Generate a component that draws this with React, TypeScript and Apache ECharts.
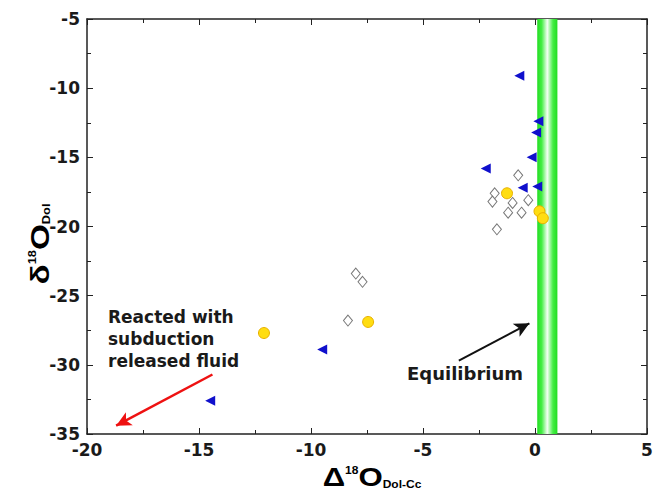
import React, { useEffect, useRef } from "react";
import * as echarts from "echarts";

const triangleData: number[][] = [
  [-0.7, -9.1],
  [0.15, -12.4],
  [0.05, -13.2],
  [-0.15, -15.0],
  [-2.2, -15.8],
  [-0.55, -17.2],
  [0.1, -17.1],
  [-9.5, -28.9],
  [-14.5, -32.6],
];

const circleData: number[][] = [
  [-1.25, -17.6],
  [0.2, -18.9],
  [0.35, -19.4],
  [-12.1, -27.7],
  [-7.45, -26.9],
];

const diamondData: number[][] = [
  [-0.75, -16.3],
  [-1.8, -17.6],
  [-1.9, -18.2],
  [-1.0, -18.3],
  [-0.3, -18.1],
  [-1.2, -19.0],
  [-0.6, -19.0],
  [-1.7, -20.2],
  [-8.0, -23.4],
  [-7.7, -24.0],
  [-8.35, -26.8],
];

const equilibriumBand: number[] = [0.1, 1.0];
const redArrow: number[][] = [[-14.4, -30.7], [-18.7, -34.4]];
const blackArrow: number[][] = [[-3.4, -29.7], [-0.25, -27.0]];

const xTicks = { min: -20, max: 5, interval: 5 };
const yTicks = { min: -35, max: -5, interval: 5 };

const FONT = "'Liberation Sans', Arial, sans-serif";
const WIDE_FONT = "'DejaVu Sans', sans-serif";

export default function App() {
  const ref = useRef<HTMLDivElement>(null);
  useEffect(() => {
    if (!ref.current) return;
    const chart = echarts.init(ref.current, undefined, { renderer: "svg" });
    const axisCommon = {
      axisLine: { show: true, onZero: false, lineStyle: { color: "#222", width: 1.5 } },
      axisTick: { show: true, inside: true, length: 6, lineStyle: { color: "#222", width: 1 } },
      minorTick: { show: true, splitNumber: 2, length: 4, lineStyle: { color: "#222", width: 1 } },
      splitLine: { show: false },
    };
    const labelStyle = { fontFamily: WIDE_FONT, fontWeight: "bold" as const, fontSize: 17, color: "#1a1a1a" };
    const nameRich = {
      m: { fontFamily: FONT, fontWeight: "bold", fontSize: 26, color: "#1a1a1a" },
      sup: { fontFamily: FONT, fontWeight: "bold", fontSize: 10, color: "#1a1a1a", padding: [0, 0, 14, 0] },
      sub: { fontFamily: FONT, fontWeight: "bold", fontSize: 10, color: "#1a1a1a", padding: [14, 0, 0, 0] },
    };
    chart.setOption({
      animation: false,
      backgroundColor: "#ffffff",
      grid: { left: 87, right: 7, top: 19, bottom: 62, containLabel: false, outerBoundsMode: "none" },
      xAxis: [
        {
          type: "value",
          ...xTicks,
          position: "bottom",
          ...axisCommon,
          axisLabel: { ...labelStyle, margin: 7 },
        },
        {
          type: "value",
          ...xTicks,
          position: "top",
          ...axisCommon,
          axisLabel: { show: false },
        },
      ],
      yAxis: [
        {
          type: "value",
          ...yTicks,
          position: "left",
          ...axisCommon,
          axisLabel: { ...labelStyle, margin: 7 },
        },
        {
          type: "value",
          ...yTicks,
          position: "right",
          ...axisCommon,
          axisLabel: { show: false },
        },
      ],
      series: [
        {
          type: "scatter",
          data: [],
          markArea: {
            silent: true,
            itemStyle: {
              opacity: 1,
              color: new echarts.graphic.LinearGradient(0, 0, 1, 0, [
                { offset: 0, color: "#22dd22" },
                { offset: 0.22, color: "#44ee44" },
                { offset: 0.5, color: "#f4fff4" },
                { offset: 0.78, color: "#44ee44" },
                { offset: 1, color: "#22dd22" },
              ]),
            },
            data: [[{ xAxis: equilibriumBand[0], yAxis: yTicks.min }, { xAxis: equilibriumBand[1], yAxis: yTicks.max }]],
          },
          markLine: {
            silent: true,
            symbol: ["none", "arrow"],
            symbolSize: [11, 15],
            label: { show: false },
            data: [
              [
                { coord: redArrow[0], lineStyle: { color: "#ee1111", width: 2.5, type: "solid" } },
                { coord: redArrow[1] },
              ],
              [
                { coord: blackArrow[0], lineStyle: { color: "#111111", width: 2, type: "solid" } },
                { coord: blackArrow[1] },
              ],
            ],
          },
        },
        {
          type: "scatter",
          data: diamondData,
          symbol: "diamond",
          symbolSize: [9, 11],
          itemStyle: { color: "#ffffff", borderColor: "#777777", borderWidth: 1, opacity: 1 },
          z: 3,
        },
        {
          type: "scatter",
          data: circleData,
          symbol: "circle",
          symbolSize: 11,
          itemStyle: { color: "#ffdd11", borderColor: "#e8b000", borderWidth: 1, opacity: 1 },
          z: 4,
        },
        {
          type: "scatter",
          data: triangleData,
          symbol: "triangle",
          symbolRotate: 90,
          symbolSize: [10, 10],
          itemStyle: { color: "#1010cc", opacity: 1 },
          z: 5,
        },
      ],
      graphic: [
        {
          type: "text",
          x: 40,
          y: 244,
          rotation: Math.PI / 2,
          scaleX: 1.28,
          style: {
            text: "{m|δ}{sup|18}{m|O}{sub|Dol}",
            rich: nameRich,
            align: "center",
            verticalAlign: "middle",
          },
        },
        {
          type: "text",
          x: 372,
          y: 477,
          scaleX: 1.2,
          style: {
            text: "{m|Δ}{sup|18}{m|O}{sub|Dol-Cc}",
            rich: nameRich,
            align: "center",
            verticalAlign: "middle",
          },
        },
        {
          type: "text",
          left: 108,
          top: 306,
          style: {
            text: "Reacted with\nsubduction\nreleased fluid",
            font: `bold 17px ${WIDE_FONT}`,
            fill: "#1a1a1a",
            lineHeight: 22,
          },
        },
        {
          type: "text",
          left: 407,
          top: 364,
          style: {
            text: "Equilibrium",
            font: `bold 18px ${WIDE_FONT}`,
            fill: "#1a1a1a",
          },
        },
      ],
    });
    return () => chart.dispose();
  }, []);
  return <div ref={ref} style={{ width: 654, height: 496, position: "absolute", left: 0, top: 0 }} />;
}
